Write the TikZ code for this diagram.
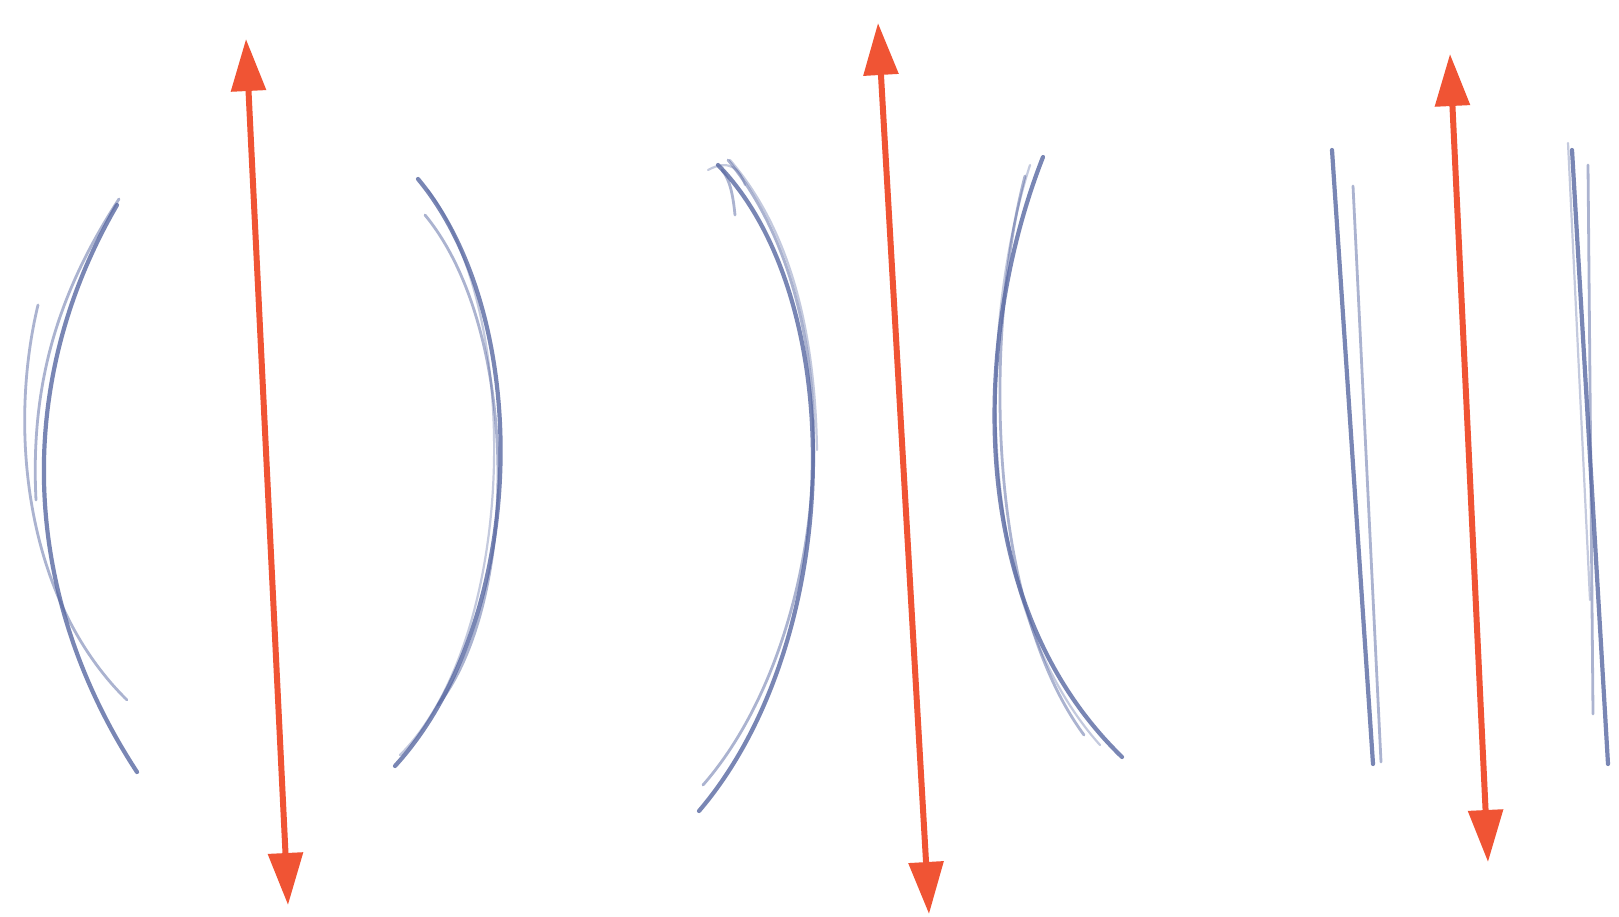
\documentclass[tikz,border=0pt]{standalone}
\usetikzlibrary{arrows.meta}
\definecolor{arrowred}{RGB}{240,84,52}
\definecolor{pencil}{RGB}{88,104,162}
\tikzset{
  redarrow/.style={draw=arrowred, line width=6pt, {Triangle[length=52pt,width=34pt]}-{Triangle[length=52pt,width=34pt]}},
  strokeA/.style={draw=pencil, line width=4.2pt, opacity=0.8, line cap=round},
  strokeB/.style={draw=pencil, line width=2.8pt, opacity=0.5, line cap=round},
  strokeC/.style={draw=pencil, line width=2.2pt, opacity=0.35, line cap=round}
}
\begin{document}
\begin{tikzpicture}[x=1pt,y=-1pt]
\useasboundingbox[fill=white] (0,0) rectangle (1619,917);
% ---- arrows
\coordinate (a1t) at (246,39);  \coordinate (a1b) at (288,905);
\coordinate (a2t) at (878,23);  \coordinate (a2b) at (929,914);
\coordinate (a3t) at (1450,54); \coordinate (a3b) at (1488,862);
\draw[redarrow] (a1t) -- (a1b);
\draw[redarrow] (a2t) -- (a2b);
\draw[redarrow] (a3t) -- (a3b);
% ---- pair 1, left "("
\draw[strokeA] (117,205) .. controls (15,380) and (18,590) .. (137,772);
\draw[strokeB] (119,199) .. controls (60,290) and (30,380) .. (36,500);
\draw[strokeB] (38,305) .. controls (8,430) and (25,600) .. (127,700);
% ---- pair 1, right ")"
\draw[strokeA] (418,179) .. controls (535,320) and (528,620) .. (395,766);
\draw[strokeB] (425,215) .. controls (520,330) and (520,600) .. (438,705);
\draw[strokeC] (428,190) .. controls (525,320) and (515,640) .. (400,755);
% ---- pair 2, left ")"
\draw[strokeA] (718,165) .. controls (850,300) and (845,640) .. (699,811);
\draw[strokeB] (728,160) .. controls (860,320) and (830,640) .. (703,785);
\draw[strokeC] (708,170) .. controls (730,158) and (740,170) .. (745,185);
\draw[strokeC] (730,160) .. controls (790,230) and (815,330) .. (817,450);
\draw[strokeB] (735,215) .. controls (733,195) and (730,180) .. (722,170);
% ---- pair 2, right "("
\draw[strokeA] (1043,157) .. controls (975,330) and (960,600) .. (1122,757);
\draw[strokeB] (1025,176) .. controls (985,330) and (985,600) .. (1084,735);
\draw[strokeC] (1030,165) .. controls (980,320) and (970,600) .. (1100,745);
% ---- pair 3, left lines
\draw[strokeA] (1332,150) -- (1373,764);
\draw[strokeB] (1353,186) -- (1381,762);
% ---- pair 3, right lines
\draw[strokeA] (1572,150) -- (1608,764);
\draw[strokeB] (1588,165) -- (1593,714);
\draw[strokeC] (1568,143) -- (1590,600);
\end{tikzpicture}
\end{document}
